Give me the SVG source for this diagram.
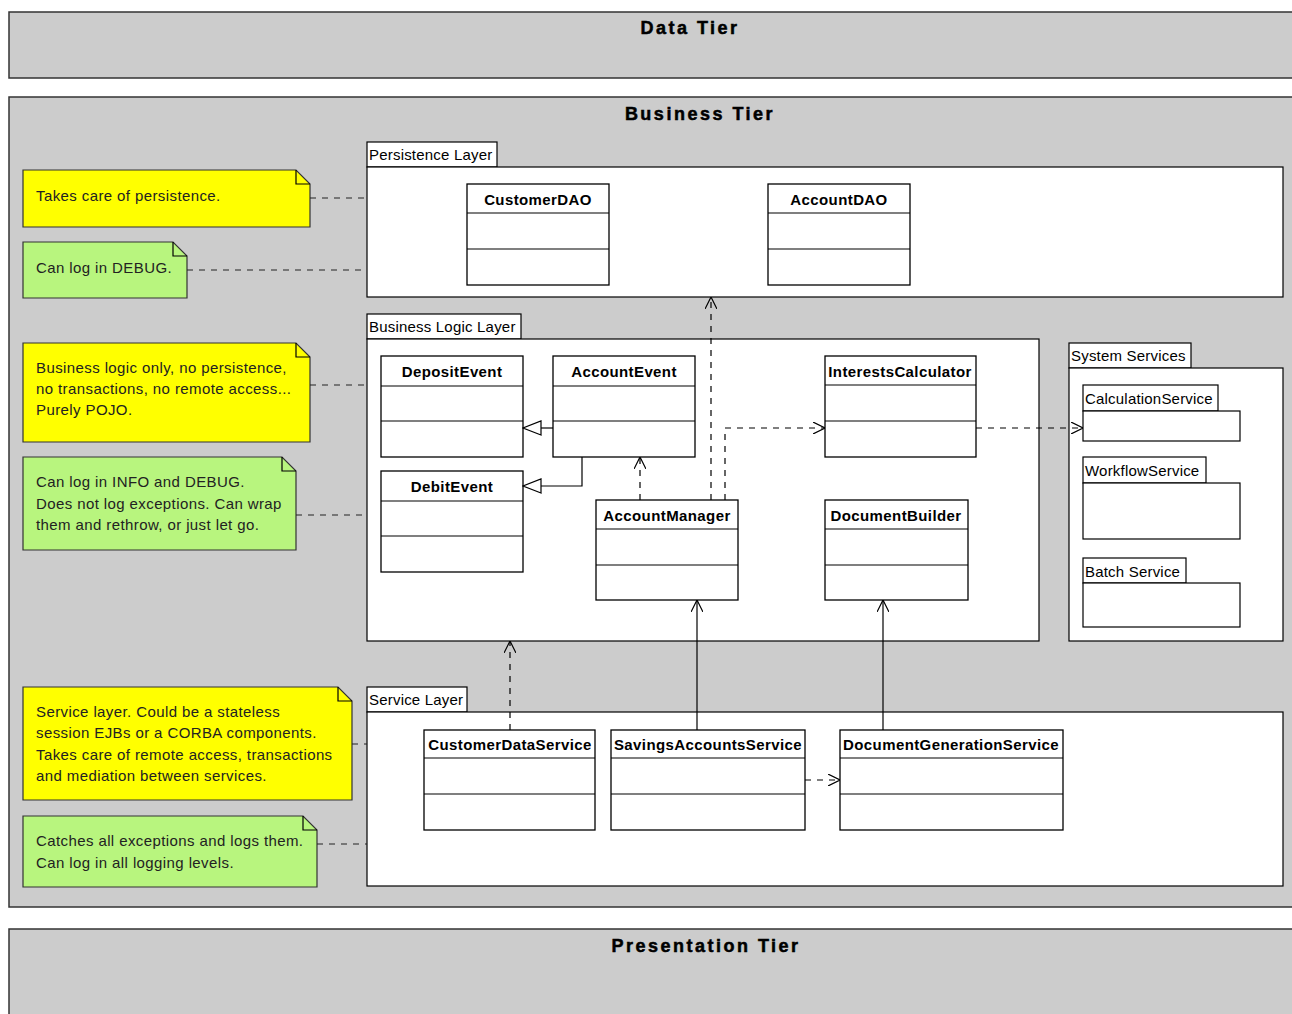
<svg xmlns="http://www.w3.org/2000/svg" width="1292" height="1014" viewBox="0 0 1292 1014">
<style>
.tier{fill:#cccccc;stroke:#333;stroke-width:1.5}
.tt{font-family:"Liberation Sans",Arial,sans-serif;font-weight:bold;font-size:18px;letter-spacing:2.5px;text-anchor:middle;fill:#000;stroke:#000;stroke-width:0.5}
.pkg{fill:#fff;stroke:#000;stroke-width:1.2}
.pl{font-family:"Liberation Sans",Arial,sans-serif;font-size:15px;letter-spacing:0.2px;fill:#000}
.cls{fill:#fff;stroke:#000;stroke-width:1.3}
.cn{font-family:"Liberation Sans",Arial,sans-serif;font-weight:bold;font-size:15px;text-anchor:middle;fill:#000;letter-spacing:0.4px}
.ny{fill:#ffff00;stroke:#333;stroke-width:1.2}
.ng{fill:#b8f57e;stroke:#333;stroke-width:1.2}
.nt{font-family:"Liberation Sans",Arial,sans-serif;font-size:15px;fill:#222;letter-spacing:0.4px}
.dash{fill:none;stroke:#000;stroke-width:1.2;stroke-dasharray:6,6}
.sol{fill:none;stroke:#000;stroke-width:1.2}
.dn{fill:none;stroke:#222;stroke-width:1.2;stroke-dasharray:6,6}
</style>
<defs>
<marker id="open" viewBox="0 0 12 12" refX="12" refY="6" markerWidth="12" markerHeight="12" markerUnits="userSpaceOnUse" orient="auto">
<path d="M0,0 L12,6 L0,12" fill="none" stroke="#000" stroke-width="1.2"/>
</marker>
<marker id="tri" viewBox="0 0 20 20" refX="19" refY="10" markerWidth="20" markerHeight="20" markerUnits="userSpaceOnUse" orient="auto">
<path d="M1,3 L19,10 L1,17 Z" fill="#fff" stroke="#000" stroke-width="1.2"/>
</marker>
</defs>
<rect width="1292" height="1014" fill="#fff"/>

<g id="data-tier">
<rect class="tier" x="9" y="12" width="1300" height="66"/>
<text class="tt" x="690" y="34">Data Tier</text>
</g>
<g id="business-tier">
<rect class="tier" x="9" y="97" width="1300" height="810"/>
<text class="tt" x="700" y="120">Business Tier</text>
</g>
<g id="presentation-tier">
<rect class="tier" x="9" y="929" width="1300" height="100"/>
<text class="tt" x="706" y="952">Presentation Tier</text>
</g>

<g id="persistence-layer">
<rect class="pkg" x="367" y="142" width="130" height="25"/>
<rect class="pkg" x="367" y="167" width="916" height="130"/>
<text class="pl" x="369" y="160">Persistence Layer</text>
</g>
<g id="business-logic-layer">
<rect class="pkg" x="367" y="314" width="154" height="25"/>
<rect class="pkg" x="367" y="339" width="672" height="302"/>
<text class="pl" x="369" y="332">Business Logic Layer</text>
</g>
<g id="system-services">
<rect class="pkg" x="1069" y="343" width="122" height="25"/>
<rect class="pkg" x="1069" y="368" width="214" height="273"/>
<text class="pl" x="1071" y="361">System Services</text>
</g>
<g id="service-layer">
<rect class="pkg" x="367" y="687" width="100" height="25"/>
<rect class="pkg" x="367" y="712" width="916" height="174"/>
<text class="pl" x="369" y="705">Service Layer</text>
</g>

<g id="calculation-service">
<rect class="pkg" x="1083" y="385" width="135" height="26"/>
<rect class="pkg" x="1083" y="411" width="157" height="30"/>
<text class="pl" x="1085" y="404">CalculationService</text>
</g>
<g id="workflow-service">
<rect class="pkg" x="1083" y="457" width="123" height="26"/>
<rect class="pkg" x="1083" y="483" width="157" height="56"/>
<text class="pl" x="1085" y="476">WorkflowService</text>
</g>
<g id="batch-service">
<rect class="pkg" x="1083" y="558" width="103" height="25"/>
<rect class="pkg" x="1083" y="583" width="157" height="44"/>
<text class="pl" x="1085" y="577">Batch Service</text>
</g>

<g id="customer-dao">
<rect class="cls" x="467" y="184" width="142" height="101"/>
<path class="sol" d="M467,213 H609 M467,249 H609"/>
<text class="cn" x="538" y="205">CustomerDAO</text>
</g>
<g id="account-dao">
<rect class="cls" x="768" y="184" width="142" height="101"/>
<path class="sol" d="M768,213 H910 M768,249 H910"/>
<text class="cn" x="839" y="205">AccountDAO</text>
</g>
<g id="deposit-event">
<rect class="cls" x="381" y="356" width="142" height="101"/>
<path class="sol" d="M381,386 H523 M381,421 H523"/>
<text class="cn" x="452" y="377">DepositEvent</text>
</g>
<g id="account-event">
<rect class="cls" x="553" y="356" width="142" height="101"/>
<path class="sol" d="M553,386 H695 M553,421 H695"/>
<text class="cn" x="624" y="377">AccountEvent</text>
</g>
<g id="debit-event">
<rect class="cls" x="381" y="471" width="142" height="101"/>
<path class="sol" d="M381,501 H523 M381,536 H523"/>
<text class="cn" x="452" y="492">DebitEvent</text>
</g>
<g id="account-manager">
<rect class="cls" x="596" y="500" width="142" height="100"/>
<path class="sol" d="M596,529 H738 M596,565 H738"/>
<text class="cn" x="667" y="521">AccountManager</text>
</g>
<g id="interests-calculator">
<rect class="cls" x="825" y="356" width="151" height="101"/>
<path class="sol" d="M825,385 H976 M825,421 H976"/>
<text class="cn" x="900" y="377">InterestsCalculator</text>
</g>
<g id="document-builder">
<rect class="cls" x="825" y="500" width="143" height="100"/>
<path class="sol" d="M825,529 H968 M825,565 H968"/>
<text class="cn" x="896" y="521">DocumentBuilder</text>
</g>
<g id="customer-data-service">
<rect class="cls" x="424" y="730" width="171" height="100"/>
<path class="sol" d="M424,758 H595 M424,794 H595"/>
<text class="cn" x="510" y="750">CustomerDataService</text>
</g>
<g id="savings-accounts-service">
<rect class="cls" x="611" y="730" width="194" height="100"/>
<path class="sol" d="M611,758 H805 M611,794 H805"/>
<text class="cn" x="708" y="750">SavingsAccountsService</text>
</g>
<g id="document-generation-service">
<rect class="cls" x="840" y="730" width="223" height="100"/>
<path class="sol" d="M840,758 H1063 M840,794 H1063"/>
<text class="cn" x="951" y="750">DocumentGenerationService</text>
</g>

<g id="note-persistence">
<path class="ny" d="M23,170 H296 L310,184 V227 H23 Z"/>
<path class="sol" d="M296,170 V184 H310"/>
<text class="nt" x="36" y="201">Takes care of persistence.</text>
</g>
<g id="note-persistence-log">
<path class="ng" d="M23,242 H173 L187,256 V298 H23 Z"/>
<path class="sol" d="M173,242 V256 H187"/>
<text class="nt" x="36" y="273">Can log in DEBUG.</text>
</g>
<g id="note-business">
<path class="ny" d="M23,343 H296 L310,357 V442 H23 Z"/>
<path class="sol" d="M296,343 V357 H310"/>
<text class="nt" x="36" y="373">Business logic only, no persistence,</text>
<text class="nt" x="36" y="394">no transactions, no remote access...</text>
<text class="nt" x="36" y="415">Purely POJO.</text>
</g>
<g id="note-business-log">
<path class="ng" d="M23,457 H282 L296,471 V550 H23 Z"/>
<path class="sol" d="M282,457 V471 H296"/>
<text class="nt" x="36" y="487">Can log in INFO and DEBUG.</text>
<text class="nt" x="36" y="509">Does not log exceptions. Can wrap</text>
<text class="nt" x="36" y="530">them and rethrow, or just let go.</text>
</g>
<g id="note-service">
<path class="ny" d="M23,687 H338 L352,701 V800 H23 Z"/>
<path class="sol" d="M338,687 V701 H352"/>
<text class="nt" x="36" y="717">Service layer. Could be a stateless</text>
<text class="nt" x="36" y="738">session EJBs or a CORBA components.</text>
<text class="nt" x="36" y="760">Takes care of remote access, transactions</text>
<text class="nt" x="36" y="781">and mediation between services.</text>
</g>
<g id="note-service-log">
<path class="ng" d="M23,816 H303 L317,830 V887 H23 Z"/>
<path class="sol" d="M303,816 V830 H317"/>
<text class="nt" x="36" y="846">Catches all exceptions and logs them.</text>
<text class="nt" x="36" y="868">Can log in all logging levels.</text>
</g>

<g id="connectors">
<path class="dn" d="M310,198 H367"/>
<path class="dn" d="M187,270 H367"/>
<path class="dn" d="M310,385 H367"/>
<path class="dn" d="M296,515 H367"/>
<path class="dn" d="M352,744 H367"/>
<path class="dn" d="M317,844 H367"/>
<path class="sol" d="M553,428 H523" marker-end="url(#tri)"/>
<path class="sol" d="M582,457 V486 H523" marker-end="url(#tri)"/>
<path class="dash" d="M640,500 V457" marker-end="url(#open)"/>
<path class="dash" d="M711,500 V297" marker-end="url(#open)"/>
<path class="dash" d="M725,500 V428 H825" marker-end="url(#open)"/>
<path class="dash" d="M976,428 H1083" marker-end="url(#open)"/>
<path class="sol" d="M697,730 V600" marker-end="url(#open)"/>
<path class="sol" d="M883,730 V600" marker-end="url(#open)"/>
<path class="dash" d="M510,730 V641" marker-end="url(#open)"/>
<path class="dash" d="M805,780 H840" marker-end="url(#open)"/>
</g>
</svg>
